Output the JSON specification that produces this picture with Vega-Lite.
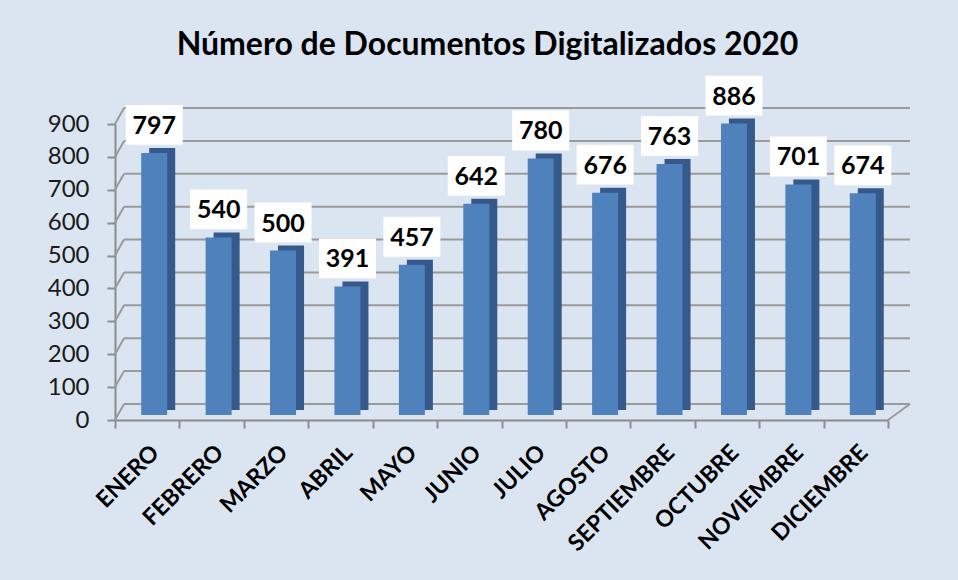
{
  "$schema": "https://vega.github.io/schema/vega-lite/v6.json",
  "width": 773,
  "height": 296,
  "autosize": "none",
  "padding": {"left": 115, "top": 124, "right": 70, "bottom": 160},
  "background": "#dbe5f1",
  "title": {
    "text": "Número de Documentos Digitalizados 2020",
    "font": "Lato",
    "fontSize": 32,
    "fontWeight": "bold",
    "color": "#000000",
    "anchor": "middle",
    "frame": "group",
    "dx": -14,
    "offset": 14
  },
  "datasets": {
    "meses": [
      {"mes": "ENERO", "docs": 797},
      {"mes": "FEBRERO", "docs": 540},
      {"mes": "MARZO", "docs": 500},
      {"mes": "ABRIL", "docs": 391},
      {"mes": "MAYO", "docs": 457},
      {"mes": "JUNIO", "docs": 642},
      {"mes": "JULIO", "docs": 780},
      {"mes": "AGOSTO", "docs": 676},
      {"mes": "SEPTIEMBRE", "docs": 763},
      {"mes": "OCTUBRE", "docs": 886},
      {"mes": "NOVIEMBRE", "docs": 701},
      {"mes": "DICIEMBRE", "docs": 674}
    ],
    "grid": [
      {"v": 0}, {"v": 100}, {"v": 200}, {"v": 300}, {"v": 400},
      {"v": 500}, {"v": 600}, {"v": 700}, {"v": 800}, {"v": 900}
    ]
  },
  "config": {
    "view": {"stroke": null},
    "axis": {"grid": false},
    "axisX": {
      "labelAngle": -45,
      "labelFont": "Lato",
      "labelFontSize": 23,
      "labelFontWeight": "bold",
      "labelColor": "#000000",
      "labelPadding": 13,
      "labelOverlap": false,
      "domainColor": "#8c8c8c",
      "domainWidth": 2,
      "tickColor": "#8c8c8c",
      "tickWidth": 2,
      "tickSize": 8,
      "tickBand": "extent"
    },
    "axisY": {
      "labelFont": "Lato",
      "labelFontSize": 24,
      "labelColor": "#1a1a1a",
      "labelPadding": 18,
      "labelOverlap": false,
      "domainColor": "#8c8c8c",
      "domainWidth": 2,
      "tickColor": "#8c8c8c",
      "tickWidth": 2,
      "tickSize": 8
    }
  },
  "layer": [
    {
      "data": {"name": "grid"},
      "mark": {"type": "rule", "color": "#9a9a9a", "strokeWidth": 2, "xOffset": 9, "x2Offset": 22, "yOffset": -16},
      "encoding": {
        "x": {
          "datum": "ENERO",
          "type": "nominal",
          "bandPosition": 0,
          "title": null,
          "scale": {"domain": ["ENERO", "FEBRERO", "MARZO", "ABRIL", "MAYO", "JUNIO", "JULIO", "AGOSTO", "SEPTIEMBRE", "OCTUBRE", "NOVIEMBRE", "DICIEMBRE"]}
        },
        "x2": {"datum": "DICIEMBRE", "bandPosition": 1},
        "y": {
          "field": "v",
          "type": "quantitative",
          "title": null,
          "scale": {"domain": [0, 900], "nice": false},
          "axis": {"values": [0, 100, 200, 300, 400, 500, 600, 700, 800, 900], "title": null}
        }
      }
    },
    {
      "data": {"name": "grid"},
      "mark": {"type": "rule", "color": "#9a9a9a", "strokeWidth": 2, "x2Offset": 9, "y2Offset": -16},
      "encoding": {
        "x": {"datum": "ENERO", "type": "nominal", "bandPosition": 0, "title": null},
        "x2": {"datum": "ENERO", "bandPosition": 0},
        "y": {"field": "v", "type": "quantitative", "title": null, "axis": {"values": [0, 100, 200, 300, 400, 500, 600, 700, 800, 900], "title": null}},
        "y2": {"field": "v"}
      }
    },
    {
      "data": {"name": "grid"},
      "mark": {"type": "rule", "color": "#9a9a9a", "strokeWidth": 2, "xOffset": 0, "x2Offset": 22, "y2Offset": -16},
      "transform": [{"filter": "datum.v == 0"}],
      "encoding": {
        "x": {"datum": "DICIEMBRE", "type": "nominal", "bandPosition": 1, "title": null},
        "x2": {"datum": "DICIEMBRE", "bandPosition": 1},
        "y": {"field": "v", "type": "quantitative", "title": null, "axis": {"values": [0, 100, 200, 300, 400, 500, 600, 700, 800, 900], "title": null}},
        "y2": {"field": "v"}
      }
    },
    {
      "data": {"name": "meses"},
      "mark": {"type": "bar", "color": "#34598a", "width": 26, "xOffset": 15, "yOffset": -10, "y2Offset": -10},
      "encoding": {
        "x": {"field": "mes", "type": "nominal", "sort": null, "title": null},
        "y": {"field": "docs", "type": "quantitative", "title": null, "axis": {"values": [0, 100, 200, 300, 400, 500, 600, 700, 800, 900], "title": null}}
      }
    },
    {
      "data": {"name": "meses"},
      "mark": {"type": "bar", "color": "#4f81bd", "width": 26, "xOffset": 7, "yOffset": -5, "y2Offset": -5},
      "encoding": {
        "x": {"field": "mes", "type": "nominal", "sort": null, "title": null},
        "y": {"field": "docs", "type": "quantitative", "title": null, "axis": {"values": [0, 100, 200, 300, 400, 500, 600, 700, 800, 900], "title": null}}
      }
    },
    {
      "data": {"name": "meses"},
      "mark": {
        "type": "point",
        "shape": "M-1,-0.7L1,-0.7L1,0.7L-1,0.7Z",
        "size": 3249,
        "filled": true,
        "color": "#ffffff",
        "opacity": 1,
        "xOffset": 7,
        "yOffset": -33
      },
      "encoding": {
        "x": {"field": "mes", "type": "nominal", "sort": null, "title": null},
        "y": {"field": "docs", "type": "quantitative", "title": null, "axis": {"values": [0, 100, 200, 300, 400, 500, 600, 700, 800, 900], "title": null}}
      }
    },
    {
      "data": {"name": "meses"},
      "mark": {
        "type": "text",
        "font": "Lato",
        "fontSize": 25,
        "fontWeight": "bold",
        "color": "#000000",
        "baseline": "middle",
        "align": "center",
        "xOffset": 7,
        "yOffset": -32
      },
      "encoding": {
        "x": {"field": "mes", "type": "nominal", "sort": null, "title": null},
        "y": {"field": "docs", "type": "quantitative", "title": null, "axis": {"values": [0, 100, 200, 300, 400, 500, 600, 700, 800, 900], "title": null}},
        "text": {"field": "docs", "type": "quantitative"}
      }
    }
  ]
}
